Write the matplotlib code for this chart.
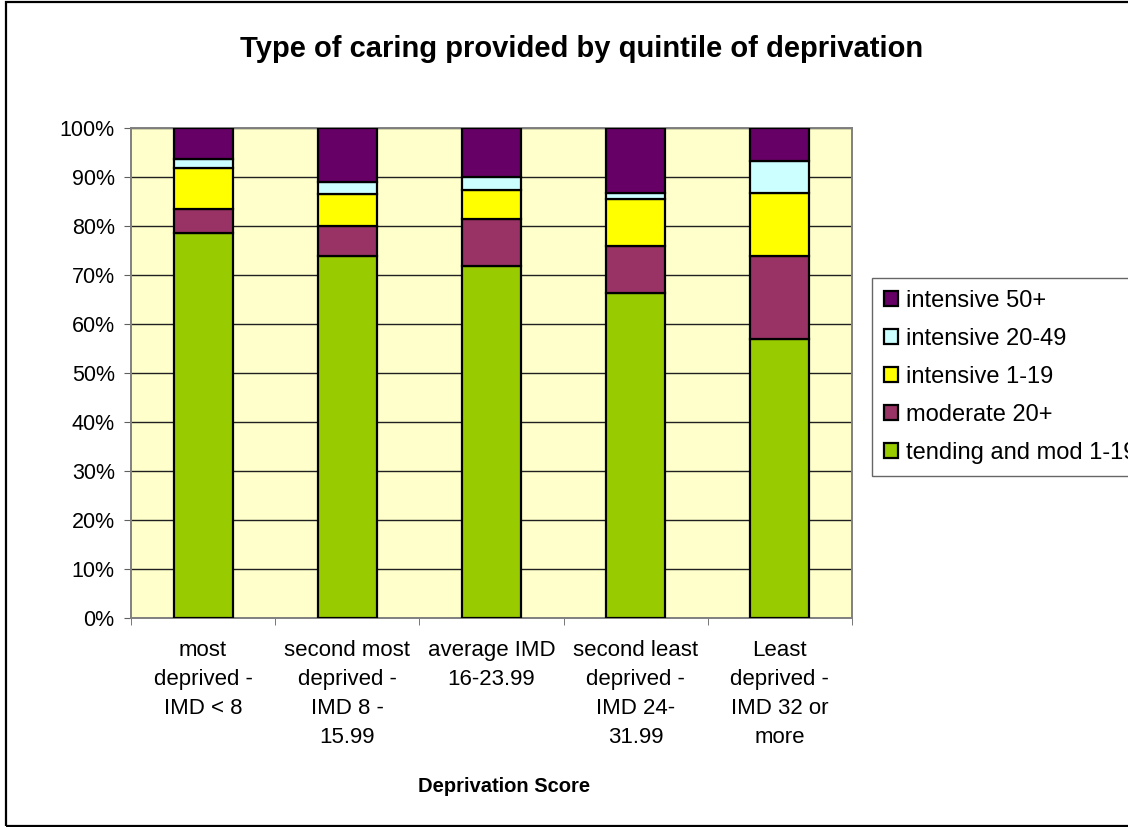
import numpy as np
import matplotlib.pyplot as plt
from matplotlib.patches import Rectangle
from matplotlib.ticker import PercentFormatter

# ==========================
# Data
# ==========================
categories = [
    "most\ndeprived -\nIMD < 8",
    "second most\ndeprived -\nIMD 8 -\n15.99",
    "average IMD\n16-23.99",
    "second least\ndeprived -\nIMD 24-\n31.99",
    "Least\ndeprived -\nIMD 32 or\nmore",
]

tending_mod = [78.5, 73.8, 71.9, 66.4, 57.0]
moderate_20 = [4.9, 6.3, 9.6, 9.6, 16.8]
intensive_1_19 = [8.4, 6.5, 5.9, 9.6, 12.9]
intensive_20_49 = [1.9, 2.3, 2.6, 1.1, 6.6]
intensive_50 = [6.3, 11.1, 10.0, 13.3, 6.7]

series = [
    ("tending and mod 1-19", tending_mod, "#99CC00"),
    ("moderate 20+", moderate_20, "#993366"),
    ("intensive 1-19", intensive_1_19, "#FFFF00"),
    ("intensive 20-49", intensive_20_49, "#CCFFFF"),
    ("intensive 50+", intensive_50, "#660066"),
]

plt.rcParams["font.family"] = ["Liberation Sans", "DejaVu Sans"]

W, H = 1128, 827
fig = plt.figure(figsize=(W / 100, H / 100), dpi=100)
ax = fig.add_axes([131 / W, 1 - 618 / H, 721 / W, 490 / H])
ax.set_facecolor("#FFFFCC")

x = np.arange(len(categories))
bottom = np.zeros(len(categories))
handles = []
for label, values, color in series:
    vals = np.array(values) / 100.0
    h = ax.bar(x, vals, 0.41, bottom=bottom, color=color,
               edgecolor="black", linewidth=1.6, label=label, zorder=3)
    handles.append(h)
    bottom += vals

ax.set_xlim(-0.5, len(categories) - 0.5)
ax.set_ylim(0, 1)
ax.set_yticks(np.arange(0, 1.01, 0.1))
ax.yaxis.set_major_formatter(PercentFormatter(1.0, decimals=0))
ax.grid(axis="y", color="#202020", linewidth=1, zorder=1)

ax.set_xticks(x)
ax.set_xticklabels(categories, fontsize=16, linespacing=1.5, va="top")
ax.set_xticks(np.arange(-0.5, len(categories), 1.0), minor=True)
ax.tick_params(axis="x", which="major", length=0, pad=16)
ax.tick_params(axis="x", which="minor", length=4.7, direction="out", color="#606060")
ax.tick_params(axis="y", length=4.7, direction="out", labelsize=15.5, pad=7,
               color="#606060")

for side in ["top", "right", "bottom", "left"]:
    ax.spines[side].set_color("#808080")
    ax.spines[side].set_linewidth(1.4)

fig.text(504 / W, 1 - 787 / H, "Deprivation Score", ha="center", va="center",
         fontsize=14.5, fontweight="bold")
fig.text(582 / W, 1 - 56.7 / H, "Type of caring provided by quintile of deprivation",
         ha="center", va="baseline", fontsize=21, fontweight="bold")

# legend sits partly outside the figure, as in the original chart
leg = fig.legend(handles[::-1], [s[0] for s in series][::-1],
                 loc="upper left", bbox_to_anchor=(872 / W, 1 - 278 / H),
                 fontsize=17, frameon=True, fancybox=False, edgecolor="#404040",
                 handlelength=0.6, handleheight=0.6, handletextpad=0.34,
                 labelspacing=0.68, borderpad=0.5, borderaxespad=0)
leg.get_frame().set_linewidth(1)

fig.patches.append(Rectangle((6 / W, 1 - 825.5 / H), 1.2, (825.5 - 1.5) / H,
                             transform=fig.transFigure, fill=False,
                             edgecolor="black", linewidth=1.6))

fig.savefig("out.png", dpi=100)
plt.close(fig)
